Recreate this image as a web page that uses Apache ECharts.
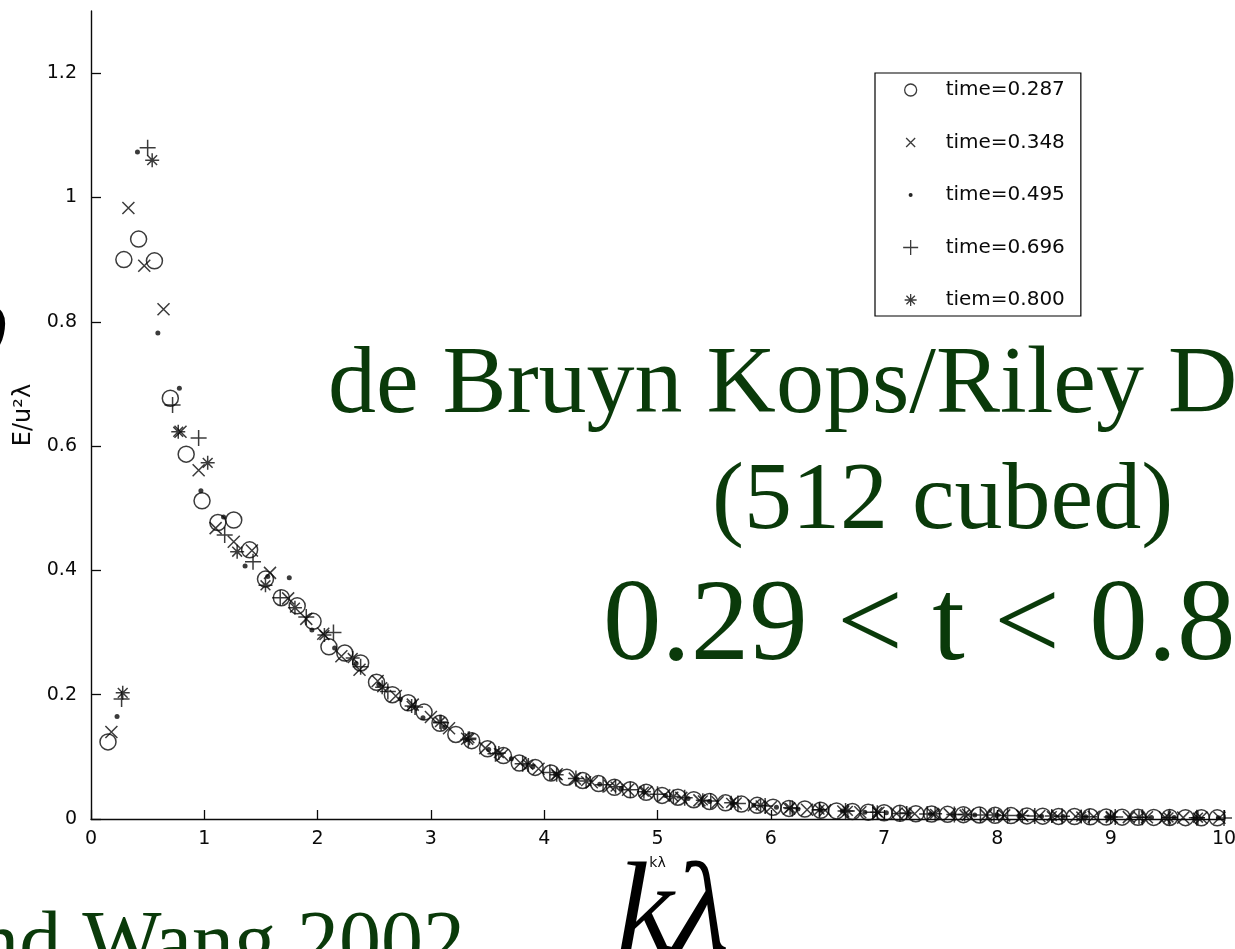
<!DOCTYPE html>
<html>
<head>
<meta charset="utf-8">
<script src="https://cdn.jsdelivr.net/npm/echarts@6/dist/echarts.min.js"></script>
<style>
  html, body { margin: 0; padding: 0; background: #fff; }
  #chart { width: 1235px; height: 949px; }
</style>
</head>
<body>
<div id="chart"></div>
<script>
// Spectrum E/u^2 lambda versus k lambda at five output times
const seriesNames = ['time=0.287', 'time=0.348', 'time=0.495', 'time=0.696', 'tiem=0.800'];

const kA = [0.15,0.29,0.42,0.56,0.70,0.84,0.98,1.12,1.26,1.40,1.54,1.68,1.82,1.96,2.10,2.24,2.38,2.52,2.66,2.80,2.94,3.08,3.22,3.36,3.50,3.64,3.78,3.92,4.06,4.20,4.34,4.48,4.62,4.76,4.90,5.04,5.18,5.32,5.46,5.60,5.74,5.88,6.02,6.16,6.30,6.44,6.58,6.72,6.86,7.00,7.14,7.28,7.42,7.56,7.70,7.84,7.98,8.12,8.26,8.40,8.54,8.68,8.82,8.96,9.10,9.24,9.38,9.52,9.66,9.80,9.94];
const eA = [0.124,0.900,0.933,0.898,0.677,0.587,0.512,0.477,0.481,0.433,
            0.386,0.356,0.343,0.318,0.277,0.267,0.251,0.220,0.200,0.187,
            0.172,0.154,0.136,0.126,0.113,0.102,0.090,0.083,0.074,0.067,
            0.062,0.057,0.051,0.047,0.043,0.038,0.035,0.031,0.028,0.026,
            0.024,0.022,0.019,0.017,0.016,0.014,0.013,0.012,0.011,0.010,
            0.0092,0.0085,0.0080,0.0075,0.0070,0.0065,0.0060,0.0055,0.0050,0.0046,
            0.0042,0.0040,0.0036,0.0032,0.0030,0.0028,0.0026,0.0025,0.0022,0.0020,
            0.0019];

const kB = [0.18,0.33,0.47,0.64,0.79,0.95,1.10,1.26,1.42,1.58,1.74,1.90,2.05,2.21,2.37,2.53,2.69,2.84,3.00,3.16,3.32,3.48,3.63,3.79,3.95,4.11,4.27,4.42,4.58,4.74,4.90,5.06,5.21,5.37,5.53,5.69,5.85,6.00,6.16,6.32,6.48,6.64,6.79,6.95,7.11,7.27,7.43,7.58,7.74,7.90,8.06,8.22,8.37,8.53,8.69,8.85,9.01,9.16,9.32,9.48,9.64,9.80,9.96];
const eB = [0.140,0.983,0.890,0.820,0.623,0.561,0.468,0.446,0.432,0.396,
            0.355,0.322,0.298,0.262,0.240,0.222,0.198,0.184,0.164,0.146,
            0.129,0.114,0.103,0.090,0.081,0.072,0.065,0.059,0.053,0.047,
            0.043,0.038,0.034,0.030,0.027,0.025,0.022,0.019,0.017,0.015,
            0.014,0.012,0.011,0.010,0.0090,0.0085,0.0080,0.0074,0.0068,0.0062,
            0.0058,0.0052,0.0047,0.0042,0.0040,0.0035,0.0032,0.0030,0.0027,0.0025,
            0.0022,0.0020,0.0019];

const kC = [0.23,0.41,0.59,0.78,0.97,1.17,1.36,1.56,1.75,1.95,2.15,2.34,2.54,2.73,2.93,3.12,3.32,3.51,3.71,3.90,4.10,4.29,4.49,4.68,4.88,5.07,5.27,5.46,5.66,5.85,6.05,6.24,6.44,6.63,6.83,7.02,7.22,7.41,7.61,7.80,8.00,8.19,8.39,8.58,8.78,8.97,9.17,9.36,9.56,9.75,9.95];
const eC = [0.165,1.073,0.782,0.693,0.528,0.486,0.407,0.390,0.388,0.304,
            0.275,0.250,0.216,0.193,0.163,0.148,0.128,0.112,0.097,0.084,
            0.072,0.064,0.056,0.049,0.043,0.038,0.033,0.028,0.025,0.022,
            0.019,0.016,0.014,0.013,0.011,0.010,0.0090,0.0080,0.0073,0.0066,
            0.0060,0.0053,0.0046,0.0041,0.0037,0.0032,0.0030,0.0026,0.0024,0.0021,
            0.0019];

const kD = [0.27,0.50,0.72,0.95,1.18,1.43,1.67,1.90,2.14,2.38,2.62,2.86,3.09,3.33,3.57,3.81,4.05,4.28,4.52,4.76,5.00,5.24,5.47,5.71,5.95,6.19,6.43,6.66,6.90,7.14,7.38,7.62,7.85,8.09,8.33,8.57,8.81,9.04,9.28,9.52,9.76,10.00];
const eD = [0.193,1.080,0.666,0.613,0.457,0.414,0.356,0.325,0.300,0.245,
            0.205,0.180,0.155,0.128,0.105,0.089,0.075,0.065,0.055,0.047,
            0.040,0.034,0.029,0.025,0.021,0.017,0.015,0.013,0.011,0.0090,
            0.0080,0.0072,0.0065,0.0058,0.0050,0.0043,0.0037,0.0032,0.0028,0.0025,
            0.0021,0.0018];

const kE = [0.28,0.54,0.77,1.03,1.29,1.54,1.80,2.06,2.31,2.57,2.83,3.08,3.34,3.60,3.86,4.11,4.37,4.63,4.88,5.14,5.40,5.65,5.91,6.17,6.43,6.68,6.94,7.20,7.45,7.71,7.97,8.22,8.48,8.74,9.00,9.25,9.51,9.77];
const eE = [0.203,1.060,0.623,0.573,0.430,0.376,0.340,0.296,0.259,0.212,
            0.182,0.156,0.130,0.106,0.087,0.071,0.061,0.052,0.044,0.036,
            0.030,0.026,0.022,0.018,0.015,0.013,0.011,0.0095,0.0083,0.0072,
            0.0063,0.0055,0.0047,0.0040,0.0034,0.0030,0.0025,0.0021];

const xTicks = [0,1,2,3,4,5,6,7,8,9,10];
const yTicks = [0,0.2,0.4,0.6,0.8,1.0,1.2];

const ink = '#0a0a0a';
const green = '#0a3a0a';

// Marker glyphs: open circle, cross, dot, plus, asterisk
const SYM_X = 'path://M0,0L10,10M10,0L0,10';
const SYM_PLUS = 'path://M5,0L5,10M0,5L10,5';
const SYM_STAR = 'path://M5,0L5,10M0,5L10,5M1.5,1.5L8.5,8.5M8.5,1.5L1.5,8.5';

// Legend icons: padded so each glyph keeps its own size inside the 16px box
const LEG_CIRCLE = 'path://M0,0M16,16M14,8A6,6 0 1,1 2,8A6,6 0 1,1 14,8Z';
const LEG_X = 'path://M0,0M16,16M3.5,3.5L12.5,12.5M12.5,3.5L3.5,12.5';
const LEG_DOT = 'path://M0,0M16,16M9.4,8A1.4,1.4 0 1,1 6.6,8A1.4,1.4 0 1,1 9.4,8Z';
const LEG_PLUS = 'path://M0,0M16,16M0.5,8L15.5,8M8,0.5L8,15.5';
const LEG_STAR = 'path://M0,0M16,16M8,2L8,14M2,8L14,8M3.8,3.8L12.2,12.2M12.2,3.8L3.8,12.2';

function pairs(k, e) { return k.map((v, i) => [v, e[i]]); }

const open = { color: 'rgba(0,0,0,0)', borderColor: ink, borderWidth: 1.5 };

const chart = echarts.init(document.getElementById('chart'), null, { renderer: 'canvas' });

chart.setOption({
  animation: false,
  backgroundColor: '#fff',
  grid: { left: 91, right: 11, top: 11, bottom: 130, outerBoundsMode: 'none' },
  xAxis: {
    type: 'value', min: 0, max: 10, interval: 1,
    name: 'kλ', nameLocation: 'middle', nameGap: 37,
    nameTextStyle: { fontFamily: 'DejaVu Sans', fontSize: 14, color: ink },
    axisLine: { lineStyle: { color: ink, width: 1.4 } },
    axisTick: { inside: true, length: 9, lineStyle: { color: ink, width: 1.3 } },
    axisLabel: { margin: 11, fontFamily: 'DejaVu Sans', fontSize: 19, color: ink,
                 formatter: v => String(xTicks[Math.round(v)]) },
    splitLine: { show: false }
  },
  yAxis: {
    type: 'value', min: 0, max: 1.3,
    name: 'E/u²λ', nameLocation: 'middle', nameGap: 48, nameRotate: 90,
    nameTextStyle: { fontFamily: 'DejaVu Sans', fontSize: 24, color: ink },
    axisLine: { onZero: false, lineStyle: { color: ink, width: 1.4 } },
    axisTick: { inside: true, length: 10, customValues: yTicks, lineStyle: { color: ink, width: 1.3 } },
    axisLabel: { margin: 14, fontFamily: 'DejaVu Sans', fontSize: 19, color: ink,
                 customValues: yTicks, formatter: v => String(+v.toFixed(1)) },
    splitLine: { show: false }
  },
  legend: {
    orient: 'vertical', left: 875, top: 73,
    selectedMode: false,
    backgroundColor: '#fff',
    borderColor: '#000', borderWidth: 1.2, borderRadius: 0,
    padding: [7, 16, 6, 27],
    itemWidth: 60, itemHeight: 16, itemGap: 32.5,
    itemStyle: { borderWidth: 1.3 },
    textStyle: { fontFamily: 'DejaVu Sans', fontSize: 20, color: ink, lineHeight: 20 },
    data: [
      { name: seriesNames[0], icon: LEG_CIRCLE },
      { name: seriesNames[1], icon: LEG_X },
      { name: seriesNames[2], icon: LEG_DOT },
      { name: seriesNames[3], icon: LEG_PLUS },
      { name: seriesNames[4], icon: LEG_STAR }
    ]
  },
  series: [
    { name: seriesNames[0], type: 'scatter', symbol: 'circle', symbolSize: 16,
      itemStyle: open, data: pairs(kA, eA) },
    { name: seriesNames[1], type: 'scatter', symbol: SYM_X, symbolSize: 12, symbolKeepAspect: true,
      itemStyle: open, data: pairs(kB, eB) },
    { name: seriesNames[2], type: 'scatter', symbol: 'circle', symbolSize: 5,
      itemStyle: { color: ink, borderColor: ink, borderWidth: 0 }, data: pairs(kC, eC) },
    { name: seriesNames[3], type: 'scatter', symbol: SYM_PLUS, symbolSize: 16, symbolKeepAspect: true,
      itemStyle: open, data: pairs(kD, eD) },
    { name: seriesNames[4], type: 'scatter', symbol: SYM_STAR, symbolSize: 14, symbolKeepAspect: true,
      itemStyle: open, data: pairs(kE, eE) }
  ],
  graphic: [
    { type: 'text', left: 328, top: 339, z: 10, silent: true,
      style: { text: 'de Bruyn Kops/Riley D', font: '96px "Liberation Serif"', fill: green } },
    { type: 'text', left: 712, top: 455, z: 10, silent: true,
      style: { text: '(512 cubed)', font: '96px "Liberation Serif"', fill: green } },
    { type: 'text', left: 603, top: 570, z: 10, silent: true,
      style: { text: '0.29 < t < 0.8', font: '117px "Liberation Serif"', fill: green } },
    { type: 'text', left: 617, top: 852, z: 10, silent: true,
      style: { text: 'kλ', font: 'italic 128px "Liberation Serif"', fill: '#000' } },
    { type: 'text', right: 770, top: 905, z: 10, silent: true,
      style: { text: 'and Wang 2002', font: '84px "Liberation Serif"', fill: green } },
    { type: 'text', left: -13, top: 300, z: 10, silent: true,
      style: { text: ')', font: 'italic 60px "Liberation Serif"', fill: '#000' } }
  ]
});
</script>
</body>
</html>
